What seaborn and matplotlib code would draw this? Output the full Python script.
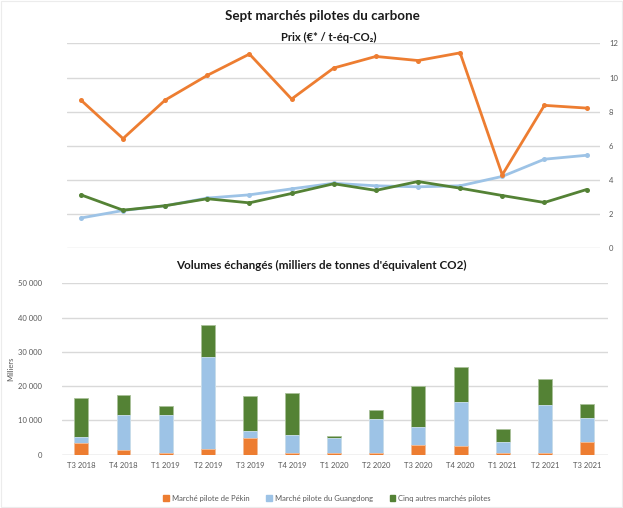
import matplotlib
matplotlib.use("Agg")
import matplotlib.pyplot as plt
import matplotlib.patches as mpatches
from matplotlib.ticker import FuncFormatter
import seaborn as sns
import pandas as pd

# Quarters
quarters = ["T3 2018", "T4 2018", "T1 2019", "T2 2019", "T3 2019", "T4 2019",
            "T1 2020", "T2 2020", "T3 2020", "T4 2020", "T1 2021", "T2 2021", "T3 2021"]

# Prices (EUR / t CO2-eq)
price_pekin = [8.68, 6.42, 8.68, 10.13, 11.38, 8.74, 10.56, 11.24, 11.0, 11.45, 4.29, 8.37, 8.21]
price_guangdong = [1.76, 2.2, 2.48, 2.93, 3.12, 3.47, 3.8, 3.65, 3.59, 3.65, 4.2, 5.21, 5.44]
price_autres = [3.12, 2.22, 2.48, 2.89, 2.65, 3.2, 3.77, 3.38, 3.9, 3.51, 3.08, 2.67, 3.43]

# Traded volumes (thousands of tonnes CO2-eq)
vol_pekin = [3500, 1360, 600, 1750, 4770, 400, 400, 400, 2700, 2400, 400, 400, 3800]
vol_guangdong = [1560, 10140, 10900, 26650, 2030, 5240, 4370, 9900, 5300, 13000, 3400, 14100, 6900]
vol_autres = [11440, 6000, 2800, 9400, 10200, 12260, 680, 2700, 12000, 10200, 3700, 7600, 4200]

series_names = ["Marché pilote de Pékin", "Marché pilote du Guangdong", "Cinq autres marchés pilotes"]

ORANGE = "#ED7D31"
BLUE = "#9DC3E6"
GREEN = "#548235"
GRID = "#d9d9d9"
TICK = "#595959"

sns.set_theme(style="white")
plt.rcParams["font.family"] = ["Lato", "DejaVu Sans"]

fig = plt.figure(figsize=(6.23, 5.08), dpi=100)

# ---------- Prices ----------
ax1 = fig.add_axes([67 / 623, 0.5118, (600 - 67) / 623, 0.4026])
prices = pd.DataFrame({"x": range(len(quarters)),
                       "pekin": price_pekin,
                       "guangdong": price_guangdong,
                       "autres": price_autres})
for col, color, z in [("guangdong", BLUE, 2), ("autres", GREEN, 3), ("pekin", ORANGE, 4)]:
    sns.lineplot(data=prices, x="x", y=col, ax=ax1, color=color, linewidth=2.0,
                 marker="o", markersize=3.6, markeredgewidth=0, zorder=z)
ax1.set_xlim(-0.33, 12.32)
ax1.set_ylim(0, 12)
ax1.set_yticks(range(0, 13, 2))
ax1.yaxis.tick_right()
ax1.tick_params(axis="y", length=0, pad=6.5, labelsize=5.5, labelcolor=TICK)
ax1.set_xticks([])
ax1.set_xlabel("")
ax1.set_ylabel("")
ax1.grid(axis="y", color=GRID, linewidth=1.0)
ax1.set_axisbelow(True)
for s in ax1.spines.values():
    s.set_visible(False)

# ---------- Volumes ----------
ax2 = fig.add_axes([61.6 / 623, 0.1049, (608 - 61.6) / 623, 0.3374])
tot_pg = [a + b for a, b in zip(vol_pekin, vol_guangdong)]
tot_all = [a + b for a, b in zip(tot_pg, vol_autres)]
vols = pd.DataFrame({"q": quarters, "pekin": vol_pekin, "pg": tot_pg, "all": tot_all})
for col, color, edge in [("all", GREEN, "#a9c19a"), ("pg", BLUE, "#cfe2f3"), ("pekin", ORANGE, "#f6bf98")]:
    sns.barplot(data=vols, x="q", y=col, ax=ax2, color=color, width=0.33,
                edgecolor=edge, linewidth=0.6, saturation=1)
ax2.set_xlim(-0.47, 12.5)
ax2.set_ylim(0, 50000)
ax2.set_yticks(range(0, 50001, 10000))
ax2.yaxis.set_major_formatter(FuncFormatter(lambda v, p: f"{int(v):,}".replace(",", " ")))
ax2.tick_params(axis="y", length=0, pad=14, labelsize=5.5, labelcolor=TICK)
ax2.tick_params(axis="x", length=0, pad=5, labelsize=5.5, labelcolor=TICK)
ax2.set_xlabel("")
ax2.set_ylabel("Milliers", fontsize=5.5, color=TICK, labelpad=3)
ax2.grid(axis="y", color=GRID, linewidth=1.0)
ax2.set_axisbelow(True)
for s in ax2.spines.values():
    s.set_visible(False)
ax2.axhline(0, color=GRID, linewidth=1.0, zorder=0.5)

# ---------- Titles ----------
fig.text(322 / 623, 1 - 16 / 508, "Sept marchés pilotes du carbone", ha="center", va="center",
         fontsize=9.6, fontweight="bold", color="#1a1a1a")
fig.text(329 / 623, 1 - 37 / 508, "Prix (€* / t-éq-CO₂)", ha="center", va="center",
         fontsize=8.1, fontweight="bold", color="#1a1a1a")
fig.text(321 / 623, 1 - 265 / 508, "Volumes échangés (milliers de tonnes d'équivalent CO2)",
         ha="center", va="center", fontsize=8.4, fontweight="bold", color="#1a1a1a")

# ---------- Legend ----------
handles = [mpatches.Patch(color=c, label=n) for c, n in zip([ORANGE, BLUE, GREEN], series_names)]
fig.legend(handles=handles, loc="center", bbox_to_anchor=(327 / 623, 1 - 498 / 508), ncol=3,
           frameon=False, fontsize=5.5, handlelength=0.7, handleheight=0.7, handletextpad=0.4,
           columnspacing=2.2, labelcolor=TICK)

# light frame around the whole chart
fig.add_artist(mpatches.Rectangle((0.001, 0.001), 0.998, 0.998, transform=fig.transFigure,
                                  fill=False, edgecolor="#ececec", linewidth=0.8))

fig.savefig("out.png", dpi=100)
